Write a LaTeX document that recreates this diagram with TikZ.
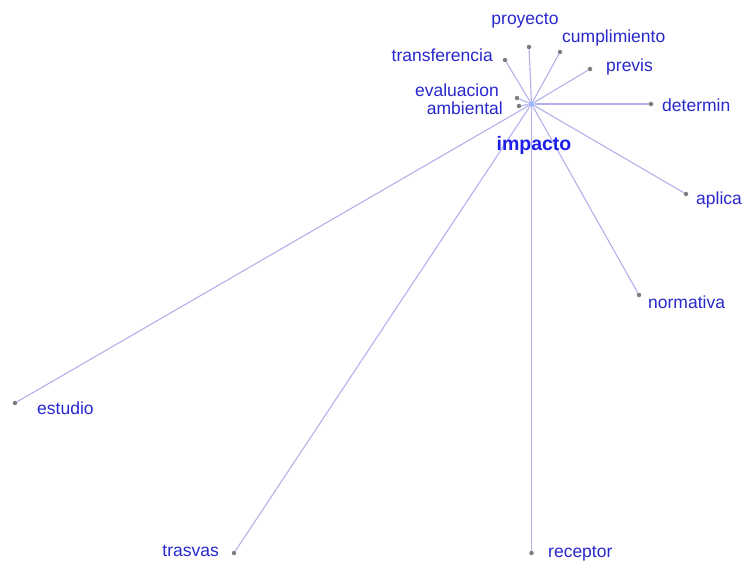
\documentclass[tikz,border=0pt]{standalone}
\usepackage{fontspec}
\setmainfont{Liberation Sans}
\definecolor{edgec}{RGB}{178,178,236}
\definecolor{dotc}{RGB}{125,125,125}
\definecolor{labc}{RGB}{40,40,205}
\definecolor{hubc}{RGB}{30,30,235}
\definecolor{hubdot}{RGB}{160,180,250}
\begin{document}
\begin{tikzpicture}[x=1pt,y=-1pt,
  dotn/.style={circle,fill=dotc,inner sep=0pt,minimum size=4.5pt},
  lab/.style={text=labc,font=\fontsize{17.5}{19}\selectfont,inner sep=0pt},
  edge/.style={draw=edgec,line width=1.1pt}]
\useasboundingbox (0,0) rectangle (744,563);
\fill[white] (0,0) rectangle (744,563);
\node[circle,fill=hubdot,inner sep=0pt,minimum size=6pt] (c) at (531.5,104) {};
\node[dotn] (proy) at (529,47) {};
\node[dotn] (cump) at (560,52) {};
\node[dotn] (trans) at (505,60) {};
\node[dotn] (prev) at (590,69) {};
\node[dotn] (eval) at (517,98) {};
\node[dotn] (amb) at (519,106) {};
\node[dotn] (det) at (651,104) {};
\node[dotn] (apl) at (686,194) {};
\node[dotn] (norm) at (639,295) {};
\node[dotn] (rec) at (531.5,553) {};
\node[dotn] (tras) at (234,553) {};
\node[dotn] (est) at (15,403) {};
\foreach \n in {proy,cump,trans,prev,eval,amb,det,apl,norm,rec,tras,est}
  \draw[edge] (c) -- (\n);
\node[lab] (lproy) at (525,21) {proyecto};
\node[lab,anchor=west] (lcump) at (562,38) {cumplimiento};
\node[lab,anchor=east] (ltrans) at (493,55) {transferencia};
\node[lab,anchor=west] (lprev) at (606,67) {previs};
\node[lab,anchor=east] (leval) at (499,90) {evaluacion};
\node[lab,anchor=east] (lamb) at (503,108) {ambiental};
\node[lab,anchor=west] (ldet) at (662,105) {determin};
\node[lab,anchor=west] (lapl) at (696,200) {aplica};
\node[lab,anchor=west] (lnorm) at (648,302) {normativa};
\node[lab,anchor=west] (lrec) at (548,554) {receptor};
\node[lab,anchor=east] (ltras) at (219,551) {trasvas};
\node[lab,anchor=west] (lest) at (37,408) {estudio};
\node[text=hubc,font=\fontsize{19.5}{21}\selectfont\bfseries,inner sep=0pt] (lc) at (534,145) {impacto};
\end{tikzpicture}
\end{document}
